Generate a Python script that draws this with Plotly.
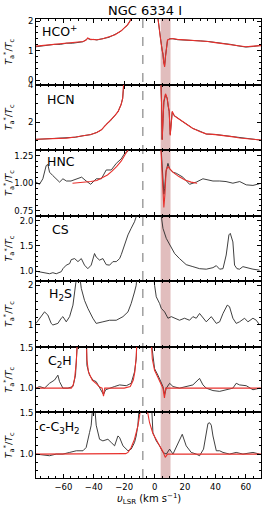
import plotly.graph_objects as go
from plotly.subplots import make_subplots

# ---------------- data ----------------
species = ["HCO<sup>+</sup>", "HCN", "HNC", "CS", "H<sub>2</sub>S", "C<sub>2</sub>H", "c-C<sub>3</sub>H<sub>2</sub>"]

hco_v = [-78,-74,-70,-66,-62,-58,-54,-50,-47,-45,-44,-42,-40,-38,-34,-30,-26,-22,-20,-18,-17,-16,-15,-10,0,2,3,4,5,5.5,6,6.6,7.2,7.7,8.5,10,12,15,20,25,30,35,40,45,50,55,60,65,70]
hco_obs = [1.13,1.16,1.18,1.21,1.21,1.25,1.25,1.29,1.30,1.37,1.41,1.37,1.38,1.36,1.41,1.45,1.55,1.66,1.77,1.85,1.94,2.01,2.3,3.0,3.0,2.1,1.72,1.38,1.0,0.88,0.62,0.5,0.82,1.08,1.35,1.40,1.40,1.37,1.36,1.36,1.33,1.31,1.28,1.23,1.21,1.16,1.12,1.14,1.18]
hco_mod = [1.15,1.17,1.19,1.20,1.22,1.24,1.26,1.28,1.31,1.36,1.43,1.38,1.37,1.37,1.40,1.46,1.54,1.67,1.76,1.86,1.93,2.02,2.3,3.0,3.0,2.1,1.7,1.36,1.02,0.9,0.6,0.45,0.8,1.1,1.36,1.39,1.41,1.38,1.36,1.35,1.34,1.31,1.27,1.24,1.20,1.17,1.13,1.15,1.17]

hcn_v = [-78,-72,-65,-58,-52,-47,-42,-38,-35,-32,-29,-26,-24,-22,-21,-20.5,-20,-10,4,4.6,5.0,5.6,6.1,7.2,8.3,9.0,9.6,10.3,11.0,11.6,13,15,18,22,25,30,34,40,47,52,56,62,70]
hcn_obs = [1.08,1.11,1.12,1.16,1.20,1.28,1.34,1.46,1.59,1.88,2.09,2.39,2.58,2.98,3.3,3.8,4.6,5,4.6,3.0,1.08,2.2,3.1,3.5,3.3,2.85,2.6,1.35,2.0,2.55,2.37,2.23,2.07,1.86,1.68,1.52,1.37,1.35,1.28,1.23,1.15,1.11,1.04]
hcn_mod = [1.09,1.10,1.12,1.15,1.21,1.27,1.35,1.45,1.60,1.87,2.10,2.38,2.60,2.97,3.3,3.8,4.6,5,4.6,3.0,1.05,2.2,3.15,3.55,3.3,2.9,2.6,1.3,2.0,2.6,2.35,2.25,2.08,1.85,1.69,1.50,1.38,1.34,1.29,1.22,1.16,1.10,1.05]

hnc_v = [-78,-75.7,-73.5,-71.3,-70.2,-69.1,-67,-65,-62.5,-60.3,-58,-55,-51.5,-48,-45,-42,-38.4,-35,-31.8,-28.5,-25.2,-22,-19.7,-17.5,-16,-10,3.5,4.4,5.0,5.5,6.1,6.6,7.5,8.3,8.8,9.9,12,14.3,18.6,23,27.4,31.8,35,38.4,42.8,47,51.5,56,60.3,64.7,69]
hnc_obs = [1.01,0.99,1.04,1.16,1.17,1.10,1.07,1.04,1.01,1.04,1.02,1.02,1.04,1.055,1.02,0.99,1.04,1.04,1.12,1.12,1.18,1.22,1.27,1.29,1.35,1.5,1.5,1.27,1.1,0.95,0.9,0.95,1.10,1.15,1.18,1.13,1.10,1.09,1.055,0.99,1.01,1.04,1.03,1.02,1.02,1.015,1.0,1.015,0.985,0.98,0.995]
hnc_mod_v = [-54,-48,-42,-38,-34,-31,-28,-25,-22,-19,-17,-15,None,3.5,4.4,5.0,5.6,6.1,6.8,7.6,8.8,10,12,16,20,24,28]
hnc_mod = [1.0,1.005,1.015,1.025,1.05,1.075,1.11,1.15,1.2,1.26,1.30,1.36,None,1.5,1.27,1.1,1.0,0.78,0.9,1.12,1.15,1.13,1.10,1.06,1.03,1.01,1.0]

cs_v = [-78,-73.5,-69.1,-66.9,-64.7,-61.4,-60.3,-58.1,-55.9,-54.8,-52.6,-50.4,-48.2,-46.1,-43.9,-41.7,-39.5,-38.4,-36.2,-34,-31.8,-29.6,-27.4,-25.2,-23,-21.9,-19.7,-17.5,-15.4,-13.2,-12.1,-11,3.5,4.4,5.5,7.7,9.9,13.2,16.4,20.8,25.2,29.6,34,38.4,40.6,42.8,45,47.1,48.9,49.8,51.5,52.6,54.2,55.9,58.1,60.3,64.7,69.1]
cs_obs = [1.0,0.97,0.95,0.97,0.95,0.99,1.05,1.12,1.15,1.23,1.25,1.19,1.25,1.12,1.05,1.12,1.35,1.28,1.22,1.25,1.13,1.12,1.19,1.19,1.25,1.33,1.52,1.72,1.85,1.98,2.08,2.3,2.3,2.08,1.85,1.65,1.52,1.35,1.25,1.13,1.09,1.05,1.04,1.07,1.11,1.04,1.05,1.32,1.72,1.75,1.58,1.12,1.05,1.04,1.09,1.07,1.04,1.02]

h2s_v = [-78,-75.7,-72.4,-70.2,-68,-66.9,-63.6,-61.4,-60.3,-58.1,-55.9,-53.7,-52,-51,-49.5,-48.2,-46.1,-43.9,-40.6,-38.4,-34,-29.6,-25.2,-20.8,-17.5,-15.4,-13.2,-12.1,-11,-1,0,1.1,3.3,4.4,6.6,8.8,11,13.2,16.4,19.7,23,25.2,27.4,29.6,31.8,34,37.3,40.6,42.8,45,47.8,49.3,51.5,53.7,55.9,59.2,61.4,64.7,66.9,69.1]
h2s_obs = [1.04,1.17,1.33,1.25,1.04,1.0,1.04,1.17,1.21,1.08,1.21,1.5,2.0,2.3,2.3,1.92,1.62,1.42,1.17,1.04,1.08,1.12,1.12,1.21,1.33,1.54,1.83,2.0,2.5,2.5,2.0,1.71,1.54,1.42,1.33,1.17,1.21,1.17,1.12,1.17,1.12,1.21,1.17,1.29,1.17,1.08,1.21,1.04,1.08,1.29,1.5,1.46,1.17,1.04,1.08,1.17,1.08,1.17,1.12,1.0]

c2h_v = [-78,-75.7,-72.4,-69.1,-65.8,-63.6,-62.5,-60.3,-57,-53.7,-52,-51.1,-50.4,-45,-44.5,-42.8,-40.6,-38.4,-36.2,-33.6,-32.2,-29.6,-26.3,-23,-18.6,-15.4,-13.2,-12.1,-11.4,-3,-1.1,0,2.2,4.4,5.5,6.6,7.7,9.9,12.1,16.4,20.8,25.2,29.6,31.8,34,38.4,42.8,47.1,51.5,53.7,55.9,60.3,64.7,69.1]
c2h_obs = [1.0,1.02,1.0,1.06,1.10,1.16,1.08,1.0,1.0,1.02,1.16,1.40,1.7,1.7,1.28,1.16,1.10,1.08,1.0,0.92,0.98,1.0,1.02,1.04,1.03,1.06,1.2,1.36,1.7,1.7,1.36,1.24,1.16,1.08,1.02,0.92,1.0,1.06,1.02,1.0,1.02,1.04,1.12,1.04,1.0,0.97,0.96,0.98,1.0,1.06,1.04,1.03,0.98,1.0]
c2h_mod_v = [-78,-54.8,-53.5,-52.6,-51.5,-51,-50.5,-45,-44.5,-43.5,-41,-38,-36,-34.5,-33.6,-32.8,-32,-20,-16,-14,-13,-12,-11.5,-2.5,-1.5,0,2,4,5.5,6.5,7.3,70]
c2h_mod = [1.0,1.0,1.04,1.12,1.32,1.5,1.7,1.7,1.35,1.2,1.1,1.05,1.01,1.0,0.9,1.0,1.0,1.0,1.02,1.1,1.2,1.4,1.7,1.7,1.36,1.22,1.14,1.07,1.0,0.88,1.0,1.0]

c3h2_v = [-78,-73.5,-69.1,-64.7,-60.3,-55.9,-51.5,-47.1,-45,-42.8,-41.7,-40.6,-39.5,-38.4,-36.2,-34,-30.7,-28.5,-26.3,-24.1,-23,-20.8,-17.5,-15.4,-13.2,-12.1,-11,-10,-2,-1.1,1.1,3.3,5.5,7.7,9.9,12.1,16.4,18.2,20.8,24.1,27.4,29.6,32.2,34,35.1,36.2,37.3,38.4,40.6,42.8,45,49.3,53.7,58.1,64.7,69.1]
c3h2_obs = [1.0,0.99,0.98,1.0,1.0,1.02,1.04,1.04,1.08,1.26,1.35,1.6,1.6,1.35,1.18,1.16,1.18,1.14,1.10,1.22,1.20,1.10,1.04,1.06,1.14,1.22,1.35,1.6,1.6,1.26,1.16,1.10,1.02,1.0,1.06,1.0,1.16,1.24,1.10,1.02,1.0,0.98,1.06,1.26,1.37,1.38,1.35,1.22,1.04,1.04,1.02,1.0,1.02,1.0,1.02,1.0]
c3h2_mod_v = [-78,-22,-19,-17.5,-15.4,-13.2,-11,-9.9,-9,-5.5,-4.5,-3.3,-1.1,1.1,3.3,5.5,7.0,8.5,70]
c3h2_mod = [1.0,1.0,1.005,1.02,1.08,1.18,1.34,1.46,1.6,1.6,1.5,1.38,1.25,1.17,1.10,1.03,0.96,1.0,1.0]

v_sys = -7.7
shade_lo, shade_hi = 4.0, 10.5

y_ranges = [[-0.15, 2.07], [0.5, 4.05], [0.705, 1.30], [0.8, 2.1], [0.45, 2.1], [0.7, 1.51], [0.71, 1.505]]
y_ticks = [[0, 1, 2], [2, 4], [0.75, 1.0, 1.25], [1.0, 1.5, 2.0], [1, 2], [1.0, 1.5], [1.0, 1.5]]
y_ticktext = [["0", "1", "2"], ["2", "4"], ["0.75", "1.00", "1.25"], ["1.0", "1.5", "2.0"], ["1", "2"], ["1.0", "1.5"], ["1.0", "1.5"]]
y_minor = [0.2, 0.5, 0.05, 0.1, 0.2, 0.1, 0.1]

obs_sets = [(hco_v, hco_obs), (hcn_v, hcn_obs), (hnc_v, hnc_obs), (cs_v, cs_obs),
            (h2s_v, h2s_obs), (c2h_v, c2h_obs), (c3h2_v, c3h2_obs)]
mod_sets = [(hco_v, hco_mod), (hcn_v, hcn_mod), (hnc_mod_v, hnc_mod), None, None,
            (c2h_mod_v, c2h_mod), (c3h2_mod_v, c3h2_mod)]

# ---------------- figure ----------------
fig = make_subplots(rows=7, cols=1, shared_xaxes=True, vertical_spacing=0)

for i in range(7):
    vv, tt = obs_sets[i]
    fig.add_trace(go.Scatter(x=vv, y=tt, mode="lines",
                             line=dict(color="#2a2a2a", width=0.9)), row=i + 1, col=1)
    if mod_sets[i] is not None:
        mv, mt = mod_sets[i]
        fig.add_trace(go.Scatter(x=mv, y=mt, mode="lines", connectgaps=False,
                                 line=dict(color="#e8302c", width=1.1)), row=i + 1, col=1)

axis_common = dict(ticks="inside", tickcolor="black", tickwidth=1, showline=True,
                   linecolor="black", linewidth=1, mirror="ticks", showgrid=False,
                   zeroline=False, automargin=False)

for i in range(7):
    fig.update_xaxes(row=i + 1, col=1, range=[-78, 70], tick0=0, dtick=20, ticklen=4,
                     minor=dict(dtick=5, tick0=0, ticks="inside", ticklen=2, tickcolor="black"),
                     tickfont=dict(size=8.5), ticklabelstandoff=1, **axis_common)
    fig.update_yaxes(row=i + 1, col=1, range=y_ranges[i], tickvals=y_ticks[i],
                     ticktext=y_ticktext[i], ticklen=4,
                     minor=dict(dtick=y_minor[i], ticks="inside", ticklen=2, tickcolor="black"),
                     tickfont=dict(size=8.5), **axis_common)

# shaded region and systemic velocity line across all panels
fig.add_shape(type="rect", xref="x", yref="paper", x0=shade_lo, x1=shade_hi, y0=0, y1=1,
              fillcolor="rgba(180,90,90,0.4)", line=dict(width=0), layer="below")
fig.add_shape(type="line", xref="x", yref="paper", x0=v_sys, x1=v_sys, y0=0, y1=1,
              line=dict(color="#707070", width=1, dash="dash"), layer="below")

# species labels
label_pos = [(40, 31), (45, 99), (45, 162), (50, 229), (47, 294), (46, 361), (37, 427)]
for name, (px, py) in zip(species, label_pos):
    fig.add_annotation(text=name, xref="paper", yref="paper",
                       x=(px - 36) / 225, y=(478 - py) / 459, xanchor="left", yanchor="middle",
                       showarrow=False, font=dict(size=12.5, color="black"))

# y-axis titles
for i in range(7):
    fig.add_annotation(text="<i>T</i><sub>a</sub><sup>*</sup>/<i>T</i><sub>c</sub>",
                       xref="paper", yref="paper", x=(9 - 36) / 225, y=1 - (i + 0.5) / 7,
                       xanchor="center", yanchor="middle", textangle=-90, showarrow=False,
                       font=dict(size=9.5, color="black"))

# x-axis title
fig.add_annotation(text="<i>υ</i><sub>LSR</sub> (km s<sup>−1</sup>)", xref="paper", yref="paper",
                   x=0.5, y=(478 - 499) / 459, xanchor="center", yanchor="middle",
                   showarrow=False, font=dict(size=10, color="black"))

# title
fig.add_annotation(text="NGC 6334 I", xref="paper", yref="paper",
                   x=(145 - 36) / 225, y=(478 - 10) / 459, xanchor="center", yanchor="middle",
                   showarrow=False, font=dict(size=13, color="black"))

fig.update_layout(width=263, height=506, margin=dict(l=36, r=2, t=19, b=28),
                  plot_bgcolor="white", paper_bgcolor="white", showlegend=False,
                  font=dict(family="DejaVu Sans", size=9, color="black"))

fig.write_html("out.html", config={"displayModeBar": False},
               post_script="document.body.style.margin='0px';document.body.style.overflow='hidden';")
